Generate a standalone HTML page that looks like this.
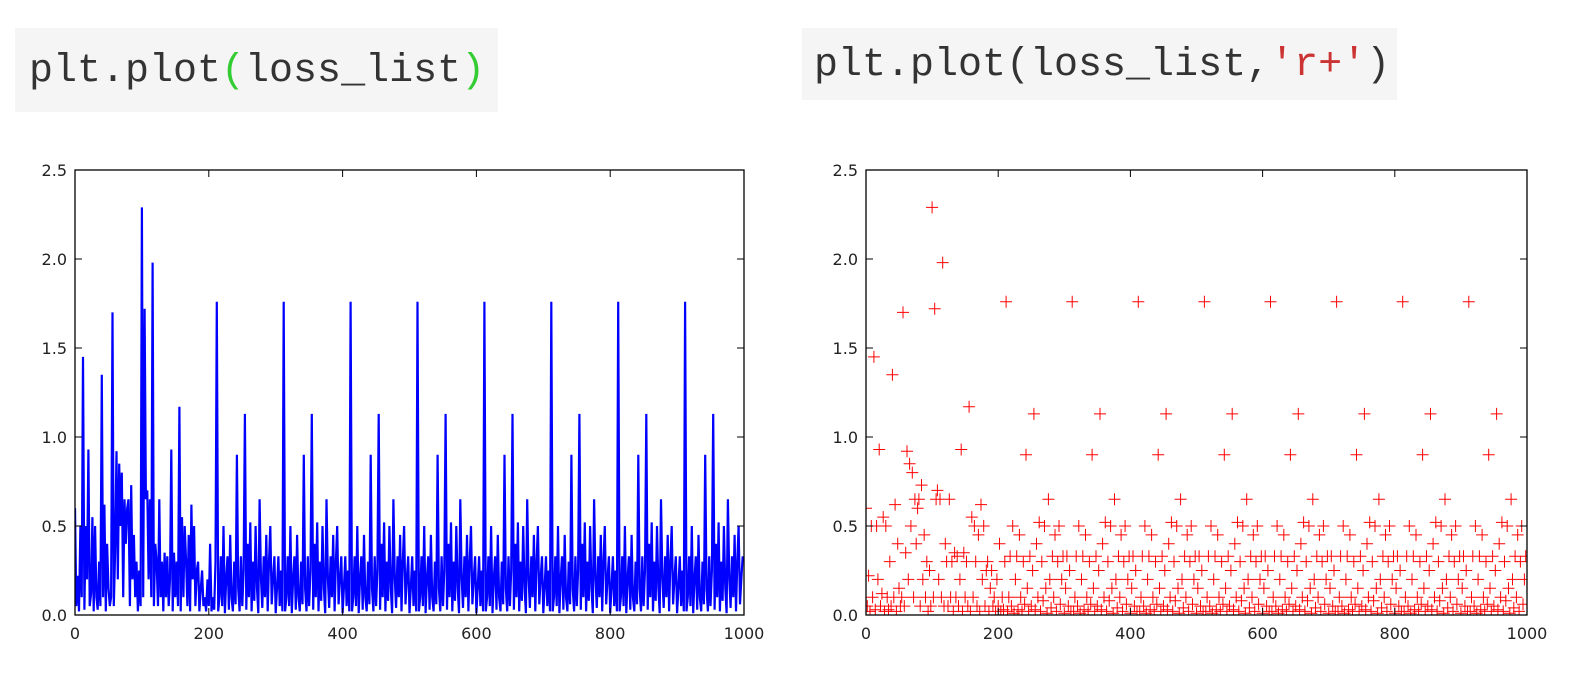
<!DOCTYPE html>
<html><head><meta charset="utf-8">
<style>
body{margin:0;background:#fff;width:1570px;height:673px;overflow:hidden;position:relative;font-family:"DejaVu Sans",sans-serif}
.code{position:absolute;background:#f5f5f5;font-family:"Liberation Mono","Noto Serif CJK SC",monospace;font-size:40px;color:#333;line-height:1}
svg{position:absolute;left:0;top:0}
</style></head><body>
<div class="code" style="left:15px;top:28px;width:483px;height:84px;"><span style="position:absolute;left:14px;top:24px">plt.plot<span style="color:#3c3">(</span>loss_list<span style="color:#3c3">)</span></span></div>
<div class="code" style="left:802px;top:28px;width:595px;height:72px;"><span style="position:absolute;left:12px;top:18px">plt.plot(loss_list,<span style="color:#c33">'r+'</span>)</span></div>
<svg id="s" width="1570" height="673"></svg>
<script>
const xTicks=[0,200,400,600,800,1000];
const yTicks=[0.0,0.5,1.0,1.5,2.0,2.5];
const yTickLabels=["0.0","0.5","1.0","1.5","2.0","2.5"];
const xStep=2;
const lossEarly=[0.6,0.05,0.22,0.02,0.5,0.1,1.45,0.03,0.5,0.2,
0.93,0.05,0.12,0.55,0.02,0.5,0.1,0.03,0.3,0.05,
1.35,0.1,0.62,0.02,0.4,0.15,0.05,0.1,1.70,0.05,
0.35,0.92,0.2,0.85,0.5,0.8,0.1,0.65,0.4,0.6,
0.65,0.05,0.73,0.2,0.45,0.1,0.3,0.02,0.25,0.05,
2.29,0.1,1.72,0.65,0.7,0.2,0.65,0.1,1.98,0.05,
0.4,0.3,0.05,0.65,0.1,0.3,0.02,0.35,0.1,0.33,
0.05,0.2,0.93,0.02,0.35,0.1,0.3,0.05,1.17,0.02,
0.55,0.1,0.5,0.3,0.05,0.45,0.02,0.62,0.2,0.5,
0.05,0.25,0.3,0.02,0.15,0.25,0.05,0.1,0.02,0.2,
0.05,0.4,0.02,0.1,0.03,0.3];
const lossLate=[
1.76,0.02,0.1,0.33,0.05,0.5,0.01,0.2,0.33,0.03,0.45,0.1,0.02,0.3,0.06,0.9,0.15,0.02,0.33,0.05,0.25,1.13,0.03,0.4,0.1,0.52,0.02,0.3,0.08,0.5,0.15,0.01,0.65,0.2,0.04,0.33,0.1,0.45,0.02,0.3,0.5,0.06,0.2,0.33,0.01,0.15,0.33,0.05,0.25,0.02,
1.76,0.02,0.1,0.33,0.05,0.5,0.01,0.2,0.33,0.03,0.45,0.1,0.02,0.3,0.06,0.9,0.15,0.02,0.33,0.05,0.25,1.13,0.03,0.4,0.1,0.52,0.02,0.3,0.08,0.5,0.15,0.01,0.65,0.2,0.04,0.33,0.1,0.45,0.02,0.3,0.5,0.06,0.2,0.33,0.01,0.15,0.33,0.05,0.25,0.02,
1.76,0.02,0.1,0.33,0.05,0.5,0.01,0.2,0.33,0.03,0.45,0.1,0.02,0.3,0.06,0.9,0.15,0.02,0.33,0.05,0.25,1.13,0.03,0.4,0.1,0.52,0.02,0.3,0.08,0.5,0.15,0.01,0.65,0.2,0.04,0.33,0.1,0.45,0.02,0.3,0.5,0.06,0.2,0.33,0.01,0.15,0.33,0.05,0.25,0.02,
1.76,0.02,0.1,0.33,0.05,0.5,0.01,0.2,0.33,0.03,0.45,0.1,0.02,0.3,0.06,0.9,0.15,0.02,0.33,0.05,0.25,1.13,0.03,0.4,0.1,0.52,0.02,0.3,0.08,0.5,0.15,0.01,0.65,0.2,0.04,0.33,0.1,0.45,0.02,0.3,0.5,0.06,0.2,0.33,0.01,0.15,0.33,0.05,0.25,0.02,
1.76,0.02,0.1,0.33,0.05,0.5,0.01,0.2,0.33,0.03,0.45,0.1,0.02,0.3,0.06,0.9,0.15,0.02,0.33,0.05,0.25,1.13,0.03,0.4,0.1,0.52,0.02,0.3,0.08,0.5,0.15,0.01,0.65,0.2,0.04,0.33,0.1,0.45,0.02,0.3,0.5,0.06,0.2,0.33,0.01,0.15,0.33,0.05,0.25,0.02,
1.76,0.02,0.1,0.33,0.05,0.5,0.01,0.2,0.33,0.03,0.45,0.1,0.02,0.3,0.06,0.9,0.15,0.02,0.33,0.05,0.25,1.13,0.03,0.4,0.1,0.52,0.02,0.3,0.08,0.5,0.15,0.01,0.65,0.2,0.04,0.33,0.1,0.45,0.02,0.3,0.5,0.06,0.2,0.33,0.01,0.15,0.33,0.05,0.25,0.02,
1.76,0.02,0.1,0.33,0.05,0.5,0.01,0.2,0.33,0.03,0.45,0.1,0.02,0.3,0.06,0.9,0.15,0.02,0.33,0.05,0.25,1.13,0.03,0.4,0.1,0.52,0.02,0.3,0.08,0.5,0.15,0.01,0.65,0.2,0.04,0.33,0.1,0.45,0.02,0.3,0.5,0.06,0.2,0.33,0.01,0.15,0.33,0.05,0.25,0.02,
1.76,0.02,0.1,0.33,0.05,0.5,0.01,0.2,0.33,0.03,0.45,0.1,0.02,0.3,0.06,0.9,0.15,0.02,0.33,0.05,0.25,1.13,0.03,0.4,0.1,0.52,0.02,0.3,0.08,0.5,0.15,0.01,0.65,0.2,0.04,0.33,0.1,0.45,0.02,0.3,0.5,0.06,0.2,0.33];
const loss=lossEarly.concat(lossLate);

const NS="http://www.w3.org/2000/svg";
const svg=document.getElementById('s');
function mk(t,a,p){const e=document.createElementNS(NS,t);for(const k in a)e.setAttribute(k,a[k]);(p||svg).appendChild(e);return e;}

function chart(L,R,T,B,kind,name){
  const g=mk('g',{});
  
  
  const sx=v=>L+(v-0)/(1000-0)*(R-L);
  const sy=v=>B-(v-0)/(2.5-0)*(B-T);
  const clip='c'+name;
  const cp=mk('clipPath',{id:clip},g);mk('rect',{x:L,y:T,width:R-L,height:B-T},cp);
  if(kind==='line'){
    let d='';loss.forEach((v,i)=>{d+=(i?'L':'M')+sx(i*xStep).toFixed(1)+','+sy(v).toFixed(1);});
    const p=mk('path',{d:d,fill:'none',stroke:'#0000ff','stroke-width':2.2,'clip-path':'url(#'+clip+')'},g);
    
    
  }else{
    let d='';loss.forEach((v,i)=>{const x=sx(i*xStep),y=sy(v);d+=`M${(x-6).toFixed(1)},${y.toFixed(1)}h12M${x.toFixed(1)},${(y-6).toFixed(1)}v12`;});
    const p=mk('path',{d:d,fill:'none',stroke:'#ff0000','stroke-width':1,'clip-path':'url(#'+clip+')'},g);
    
    
  }
  mk('rect',{x:L,y:T,width:R-L,height:B-T,fill:'none',stroke:'#000','stroke-width':1.3},g);
  xTicks.forEach(v=>{const x=sx(v);
    mk('line',{x1:x,x2:x,y1:B,y2:B-7,stroke:'#000'},g);mk('line',{x1:x,x2:x,y1:T,y2:T+7,stroke:'#000'},g);
    const t=mk('text',{x:x,y:B+24,'text-anchor':'middle','font-size':16,fill:'#222'},g);t.textContent=v;
    
    });
  yTicks.forEach((v,i)=>{const y=sy(v);
    mk('line',{x1:L,x2:L+7,y1:y,y2:y,stroke:'#000'},g);mk('line',{x1:R,x2:R-7,y1:y,y2:y,stroke:'#000'},g);
    const t=mk('text',{x:L-8,y:y+6,'text-anchor':'end','font-size':16,fill:'#222'},g);t.textContent=yTickLabels[i];
    
    });
}
chart(75,744,170,615,'line','line-chart');
chart(866,1527,170,615,'scatter','marker-chart');
</script>
</body></html>
